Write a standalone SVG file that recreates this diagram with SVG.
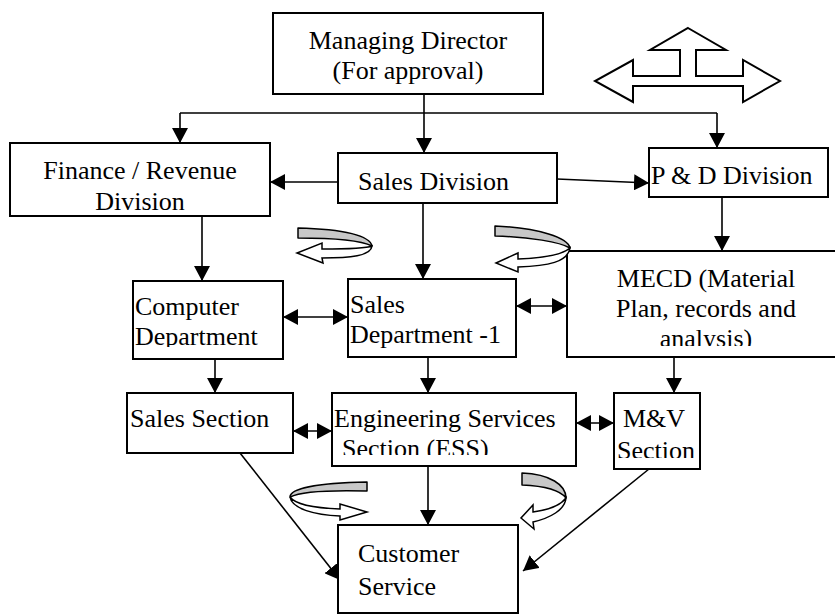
<svg xmlns="http://www.w3.org/2000/svg" width="835" height="614" viewBox="0 0 835 614">
  <style>
    .box { fill: #fff; stroke: #000; stroke-width: 2; }
    .lbl { font-family: "Liberation Serif", "Times New Roman", serif; font-size: 26px; fill: #000; }
    .mid { text-anchor: middle; }
    .conn { fill: none; stroke: #000; stroke-width: 1.6; }
    .one { marker-end: url(#head); }
    .two { marker-start: url(#head); marker-end: url(#head); }
    .back { fill: #c8c8c8; stroke: #000; stroke-width: 1.5; stroke-linejoin: round; }
    .front { fill: #fff; stroke: #000; stroke-width: 1.5; stroke-linejoin: miter; }
  </style>
  <defs>
    <marker id="head" viewBox="0 0 15 16" refX="15" refY="8" markerWidth="15" markerHeight="16" markerUnits="userSpaceOnUse" orient="auto-start-reverse">
      <path d="M0,0 L15,8 L0,16 Z" fill="#000"/>
    </marker>
    <clipPath id="clipFin"><rect x="10" y="143" width="260" height="70"/></clipPath>
    <clipPath id="clipComp"><rect x="133" y="281" width="150" height="66"/></clipPath>
    <clipPath id="clipSD1"><rect x="348" y="279" width="168" height="70"/></clipPath>
    <clipPath id="clipMecd"><rect x="567" y="251" width="268" height="95"/></clipPath>
    <clipPath id="clipEss"><rect x="332" y="393" width="244" height="62"/></clipPath>
    <clipPath id="clipMv"><rect x="614" y="393" width="86" height="65"/></clipPath>
  </defs>

  <!-- connectors -->
  <g id="connectors">
    <path class="conn" d="M424,94 V113 M180,113 H717"/>
    <path class="conn one" d="M180,113 V143"/>
    <path class="conn one" d="M424,113 V153"/>
    <path class="conn one" d="M717,113 V148"/>
    <path class="conn one" d="M338,182 H270"/>
    <path class="conn one" d="M557,179 L649,183"/>
    <path class="conn one" d="M722,197 V251"/>
    <path class="conn one" d="M202,216 V281"/>
    <path class="conn one" d="M423,203 V279"/>
    <path class="conn two" d="M283,317 H348"/>
    <path class="conn two" d="M516,306 H567"/>
    <path class="conn one" d="M215,359 V393"/>
    <path class="conn one" d="M428,357 V393"/>
    <path class="conn one" d="M674,357 V393"/>
    <path class="conn two" d="M293,431 H332"/>
    <path class="conn two" d="M576,423 H614"/>
    <path class="conn one" d="M428,466 V525"/>
    <path class="conn one" d="M240,453 L340,580"/>
    <path class="conn one" d="M649,469 L523,571"/>
  </g>

  <!-- nodes -->
  <g id="managing-director">
    <rect class="box" x="273" y="13" width="270" height="81"/>
    <text class="lbl mid" x="408" y="49">Managing Director</text>
    <text class="lbl mid" x="408" y="79">(For approval)</text>
  </g>

  <g id="finance-division">
    <rect class="box" x="10" y="143" width="260" height="73"/>
    <g clip-path="url(#clipFin)">
      <text class="lbl mid" x="140" y="179">Finance / Revenue</text>
      <text class="lbl mid" x="140" y="210">Division</text>
    </g>
  </g>

  <g id="sales-division">
    <rect class="box" x="338" y="153" width="219" height="50"/>
    <text class="lbl" x="358" y="190">Sales Division</text>
  </g>

  <g id="pd-division">
    <rect class="box" x="649" y="148" width="179" height="49"/>
    <text class="lbl" x="651" y="184">P &amp; D Division</text>
  </g>

  <g id="computer-department">
    <rect class="box" x="133" y="281" width="150" height="78"/>
    <g clip-path="url(#clipComp)">
      <text class="lbl" x="135" y="315">Computer</text>
      <text class="lbl" x="135" y="345">Department</text>
    </g>
  </g>

  <g id="sales-department-1">
    <rect class="box" x="348" y="279" width="168" height="78"/>
    <g clip-path="url(#clipSD1)">
      <text class="lbl" x="350" y="313">Sales</text>
      <text class="lbl" x="350" y="343">Department -1</text>
    </g>
  </g>

  <g id="mecd">
    <rect class="box" x="567" y="251" width="270" height="106"/>
    <g clip-path="url(#clipMecd)">
      <text class="lbl mid" x="706" y="287">MECD (Material</text>
      <text class="lbl mid" x="706" y="317">Plan, records and</text>
      <text class="lbl mid" x="706" y="347">analysis)</text>
    </g>
  </g>

  <g id="sales-section">
    <rect class="box" x="127" y="393" width="166" height="60"/>
    <text class="lbl" x="130" y="427">Sales Section</text>
  </g>

  <g id="engineering-services">
    <rect class="box" x="332" y="393" width="244" height="73"/>
    <g clip-path="url(#clipEss)">
      <text class="lbl" x="334" y="427">Engineering Services</text>
      <text class="lbl" x="342" y="457">Section (ESS)</text>
    </g>
  </g>

  <g id="mv-section">
    <rect class="box" x="614" y="393" width="86" height="76"/>
    <g clip-path="url(#clipMv)">
      <text class="lbl" x="623" y="427">M&amp;V</text>
      <text class="lbl" x="617" y="459">Section</text>
    </g>
  </g>

  <g id="customer-service">
    <rect class="box" x="338" y="525" width="180" height="88"/>
    <text class="lbl" x="358" y="562">Customer</text>
    <text class="lbl" x="358" y="595">Service</text>
  </g>

  <!-- circular feedback arrows -->
  <g id="loop-1">
    <path class="back" d="M298,228 C345,229 370,236 372,246 C360,240 330,238 298,238 Z"/>
    <path class="front" d="M372,246 C371,256 350,258 322,258 L323,263 L297,253 L322,243 L322,249 C345,249 365,249 372,246 Z"/>
  </g>
  <g id="loop-2">
    <path class="back" d="M495,226 C540,228 568,238 570,248 C560,242 530,237 495,236 Z"/>
    <path class="front" d="M570,248 C568,262 548,266 518,267 L518,272 L496,263 L518,253 L518,259 C545,258 562,255 570,248 Z"/>
  </g>
  <g id="loop-3">
    <path class="back" d="M367,482 C320,483 290,488 290,497 C300,492 330,490 367,491 Z"/>
    <path class="front" d="M290,497 C292,509 315,515 340,516 L340,520 L367,512 L340,504 L340,509 C315,508 295,504 290,497 Z"/>
  </g>
  <g id="loop-4">
    <path class="back" d="M522,473 C550,474 566,485 566,498 C560,490 545,486 522,485 Z"/>
    <path class="front" d="M566,498 C565,510 550,518 533,522 L534,529 L521,518 L533,505 L533,512 C548,510 560,506 566,498 Z"/>
  </g>

  <!-- three-way block arrow -->
  <g id="three-way-arrow">
    <polygon fill="#fff" stroke="#000" stroke-width="2" points="688,28 726,50 696,50 696,76 743,76 743,60 780,81 743,102 743,86 633,86 633,102 595,81 633,60 633,76 680,76 680,50 650,50"/>
  </g>
</svg>
